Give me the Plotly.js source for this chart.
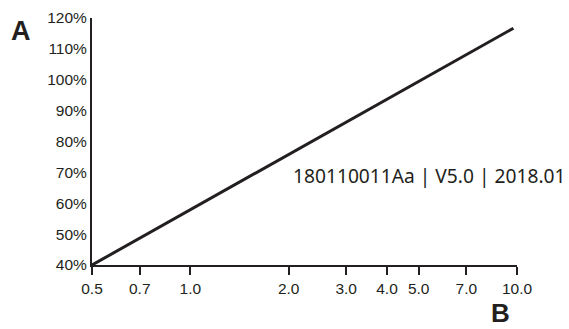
<!DOCTYPE html>
<html><head><meta charset="utf-8">
<script src="https://cdn.plot.ly/plotly-3.0.1.min.js"></script>
<style>html,body{margin:0;padding:0;background:#fff;}#chart{width:569px;height:329px;}</style>
</head><body><div id="chart"></div>
<script>
const xValues = [0.5, 9.75];
const yValues = [40, 116.7];
const xTicks = [0.5, 0.7, 1.0, 2.0, 3.0, 4.0, 5.0, 7.0, 10.0];
const xTickLabels = ['0.5', '0.7', '1.0', '2.0', '3.0', '4.0', '5.0', '7.0', '10.0'];
const yTicks = [40, 50, 60, 70, 80, 90, 100, 110, 120];
const yTickLabels = yTicks.map(v => v + '%');
const axisLabelY = 'A';
const axisLabelX = 'B';
const docText = '180110011Aa | V5.0 | 2018.01';

const ink = '#231f20';
const trace = {
  x: xValues, y: yValues, type: 'scatter', mode: 'lines',
  line: {color: ink, width: 3}, hoverinfo: 'none', cliponaxis: false
};
const layout = {
  width: 569, height: 329,
  margin: {l: 92, r: 52, t: 18, b: 64},
  paper_bgcolor: '#fff', plot_bgcolor: '#fff',
  showlegend: false,
  font: {family: 'Liberation Sans, Arial, sans-serif', color: ink, size: 15},
  xaxis: {
    type: 'log', range: [Math.log10(0.5), Math.log10(10)],
    tickvals: xTicks, ticktext: xTickLabels,
    showgrid: false, zeroline: false,
    showline: true, linecolor: ink, linewidth: 2,
    ticks: 'outside', ticklen: 8, tickwidth: 2, tickcolor: ink,
    tickfont: {size: 15.5, color: ink}
  },
  yaxis: {
    range: [40, 120],
    tickvals: yTicks, ticktext: yTickLabels,
    showgrid: false, zeroline: false,
    showline: true, linecolor: ink, linewidth: 2,
    ticks: '', tickfont: {size: 15.5, color: ink}
  },
  annotations: [
    {text: '<b>' + axisLabelY + '</b>', xref: 'paper', yref: 'paper', x: -0.166, y: 0.947,
     xanchor: 'center', yanchor: 'middle', showarrow: false,
     font: {size: 27, color: ink, family: 'Liberation Sans, Arial, sans-serif'}},
    {text: '<b>' + axisLabelX + '</b>', xref: 'paper', yref: 'paper', x: 0.96, y: -0.195,
     xanchor: 'center', yanchor: 'middle', showarrow: false,
     font: {size: 26, color: ink, family: 'Liberation Sans, Arial, sans-serif'}},
    {text: docText, xref: 'paper', yref: 'paper', x: 0.469, y: 0.364,
     xanchor: 'left', yanchor: 'middle', showarrow: false,
     font: {size: 19.2, color: ink, family: 'Noto Sans, sans-serif'}}
  ]
};
Plotly.newPlot('chart', [trace], layout, {staticPlot: true, displayModeBar: false});
</script></body></html>
